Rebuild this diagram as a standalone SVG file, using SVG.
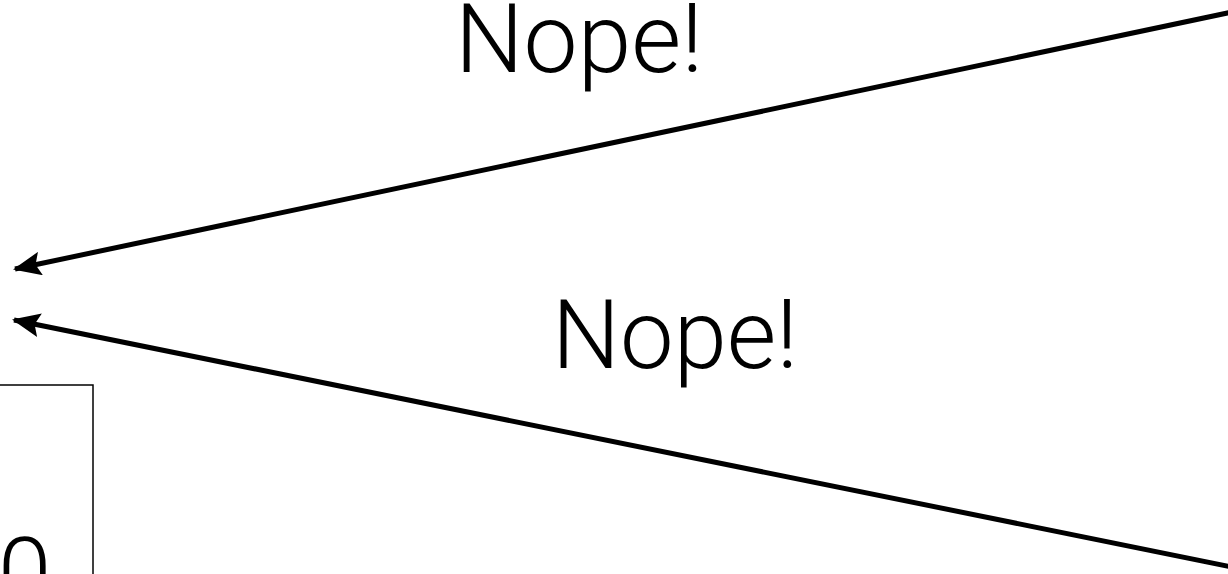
<svg xmlns="http://www.w3.org/2000/svg" width="1228" height="574" viewBox="0 0 1228 574">
<style>
.lbl{font-family:Roboto,"Liberation Sans",sans-serif;font-weight:300;font-size:96px;fill:#000}
.conn{stroke:#000;stroke-width:5;fill:none}
</style>
<defs>
<marker id="ah" viewBox="0 0 28 24" markerWidth="28" markerHeight="24" refX="26" refY="12" orient="auto" markerUnits="userSpaceOnUse">
<path d="M0,0 L28,12 L0,24 L5,12 Z" fill="#000"/>
</marker>
</defs>
<rect width="1228" height="574" fill="#fff"/>
<g id="box">
<rect x="-20" y="385" width="113" height="220" fill="none" stroke="#000" stroke-width="1.5"/>
<text class="lbl" x="-2" y="606">0</text>
</g>
<g id="connectors">
<line class="conn" x1="1232" y1="12" x2="15" y2="269" marker-end="url(#ah)"/>
<line class="conn" x1="1232" y1="567" x2="14" y2="320" marker-end="url(#ah)"/>
</g>
<g id="label1"><text class="lbl" x="455" y="72" textLength="248" lengthAdjust="spacingAndGlyphs">Nope!</text></g>
<g id="label2"><text class="lbl" x="552" y="368" textLength="246" lengthAdjust="spacingAndGlyphs">Nope!</text></g>
</svg>
